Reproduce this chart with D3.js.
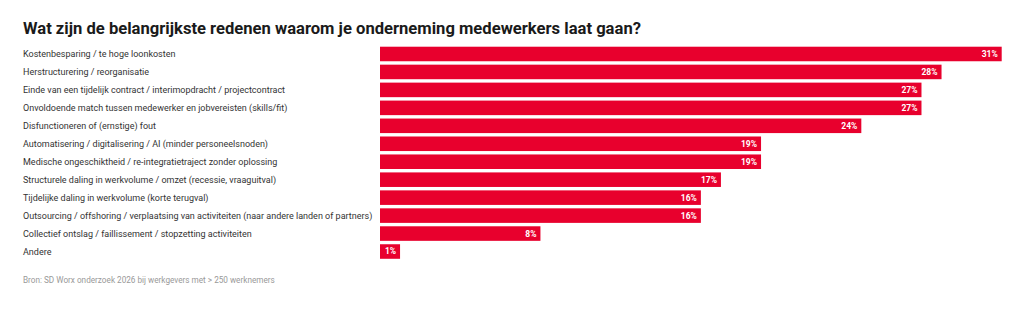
<!DOCTYPE html>
<html>
<head>
<meta charset="utf-8">
<script src="https://cdn.jsdelivr.net/npm/d3@7"></script>
<style>
  html, body { margin: 0; padding: 0; background: #fff; }
  svg { display: block; font-family: Roboto, "Noto Sans", sans-serif; }
</style>
</head>
<body>
<svg id="chart" width="1024" height="317"></svg>
<script>
const title = "Wat zijn de belangrijkste redenen waarom je onderneming medewerkers laat gaan?";
const source = "Bron: SD Worx onderzoek 2026 bij werkgevers met > 250 werknemers";
const categories = [
  "Kostenbesparing / te hoge loonkosten",
  "Herstructurering / reorganisatie",
  "Einde van een tijdelijk contract / interimopdracht / projectcontract",
  "Onvoldoende match tussen medewerker en jobvereisten (skills/fit)",
  "Disfunctioneren of (ernstige) fout",
  "Automatisering / digitalisering / AI (minder personeelsnoden)",
  "Medische ongeschiktheid / re-integratietraject zonder oplossing",
  "Structurele daling in werkvolume / omzet (recessie, vraaguitval)",
  "Tijdelijke daling in werkvolume (korte terugval)",
  "Outsourcing / offshoring / verplaatsing van activiteiten (naar andere landen of partners)",
  "Collectief ontslag / faillissement / stopzetting activiteiten",
  "Andere"
];
const values = [31, 28, 27, 27, 24, 19, 19, 17, 16, 16, 8, 1];

const svg = d3.select("#chart");
const barColor = "#e8002d";

const x = d3.scaleLinear().domain([0, d3.max(values)]).range([380, 1001.7]);
const y = d3.scaleBand().domain(categories).range([45.0, 260.5]).paddingInner(0.19).paddingOuter(0.095);

const data = categories.map((c, i) => ({ c, v: values[i] }));

svg.append("text")
  .attr("x", 23).attr("y", 34)
  .attr("font-size", 16.6).attr("font-weight", 700).attr("fill", "#1a1a1a")
  .text(title);

svg.append("g").selectAll("text").data(data).join("text")
  .attr("x", 23)
  .attr("y", d => y(d.c) + y.bandwidth() / 2)
  .attr("dy", "0.35em")
  .attr("font-size", 9).attr("fill", "#333")
  .text(d => d.c);

svg.append("g").selectAll("rect").data(data).join("rect")
  .attr("x", x(0))
  .attr("y", d => y(d.c))
  .attr("width", d => x(d.v) - x(0))
  .attr("height", y.bandwidth())
  .attr("fill", barColor);

svg.append("g").selectAll("text").data(data).join("text")
  .attr("x", d => x(d.v) - 4)
  .attr("y", d => y(d.c) + y.bandwidth() / 2)
  .attr("dy", "0.35em")
  .attr("text-anchor", "end")
  .attr("font-size", 8.5).attr("font-weight", 700).attr("fill", "#fff")
  .text(d => d.v + "%");

svg.append("text")
  .attr("x", 23).attr("y", 283)
  .attr("font-size", 8.2).attr("fill", "#999")
  .text(source);
</script>
</body>
</html>
